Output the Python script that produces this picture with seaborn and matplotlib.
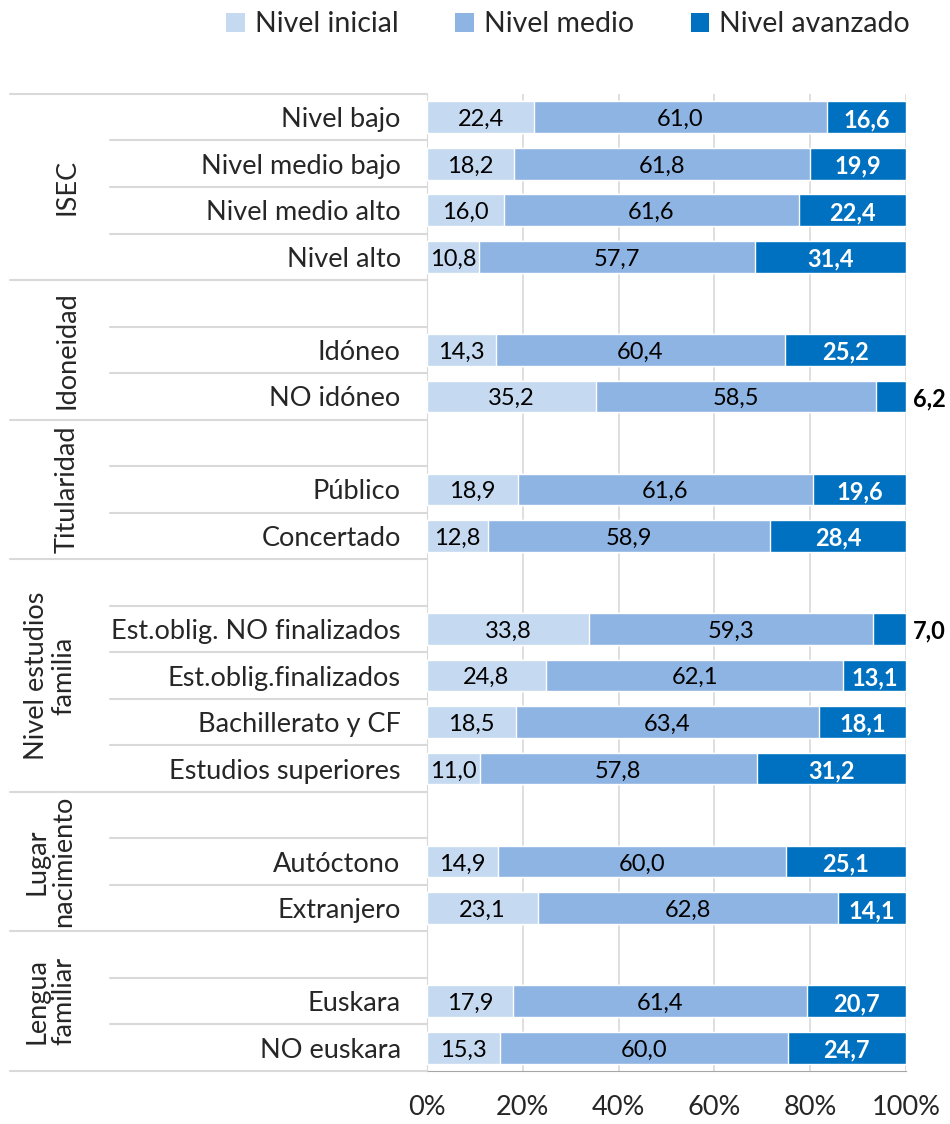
import numpy as np
import pandas as pd
import matplotlib
matplotlib.use("Agg")
import matplotlib.pyplot as plt
import matplotlib.transforms as mtransforms
from matplotlib.patches import Patch
from matplotlib.lines import Line2D
import seaborn as sns

# rows from top to bottom; "" = blank spacer row
row_labels = ["Nivel bajo", "Nivel medio bajo", "Nivel medio alto", "Nivel alto", "",
              "Idóneo", "NO idóneo", "",
              "Público", "Concertado", "",
              "Est.oblig. NO finalizados", "Est.oblig.finalizados", "Bachillerato y CF", "Estudios superiores", "",
              "Autóctono", "Extranjero", "",
              "Euskara", "NO euskara"]
inicial = [22.4, 18.2, 16.0, 10.8, np.nan, 14.3, 35.2, np.nan, 18.9, 12.8, np.nan,
           33.8, 24.8, 18.5, 11.0, np.nan, 14.9, 23.1, np.nan, 17.9, 15.3]
medio = [61.0, 61.8, 61.6, 57.7, np.nan, 60.4, 58.5, np.nan, 61.6, 58.9, np.nan,
         59.3, 62.1, 63.4, 57.8, np.nan, 60.0, 62.8, np.nan, 61.4, 60.0]
avanzado = [16.6, 19.9, 22.4, 31.4, np.nan, 25.2, 6.2, np.nan, 19.6, 28.4, np.nan,
            7.0, 13.1, 18.1, 31.2, np.nan, 25.1, 14.1, np.nan, 20.7, 24.7]

# group labels and the rows (first, last incl. spacer) they cover
groups = ["ISEC", "Idoneidad", "Titularidad", "Nivel estudios\nfamilia", "Lugar\nnacimiento", "Lengua\nfamiliar"]
group_rows = [(0, 3), (4, 6), (7, 9), (10, 14), (15, 17), (18, 20)]

series = ["Nivel inicial", "Nivel medio", "Nivel avanzado"]
colors = ["#C5D9F1", "#8EB4E3", "#0070C0"]
grid_col = "#D9D9D9"
font = ["Lato", "DejaVu Sans"]
fs = 19.5
fs_val = 17

sns.set_style("white")
plt.rcParams["font.family"] = font

keys = [f"r{i}" for i in range(len(row_labels))]
df = pd.DataFrame({"row": keys, "inicial": inicial, "medio": medio, "avanzado": avanzado})
df["c1"] = df["inicial"]
df["c2"] = df["inicial"] + df["medio"]
df["c3"] = df["c2"] + df["avanzado"]

fig = plt.figure(figsize=(9.5, 11.24), dpi=100)
ax = fig.add_axes([0.4495, 0.0472, 0.5042, 0.8692])

for col, c in zip(["c3", "c2", "c1"], colors[::-1]):
    sns.barplot(data=df, x=col, y="row", order=keys, color=c, saturation=1,
                width=0.68, errorbar=None, orient="h", ax=ax, zorder=3)

ax.set_xlim(0, 100)
ax.set_ylim(len(keys) - 0.5, -0.5)
ax.set_xticks(np.arange(0, 101, 20))
ax.set_xticklabels([f"{v}%" for v in range(0, 101, 20)], fontsize=fs)
ax.set_yticks(range(len(keys)))
ax.set_yticklabels(row_labels, fontsize=fs)
ax.tick_params(axis="y", length=0, pad=19)
ax.tick_params(axis="x", length=8, color="#A6A6A6", width=1, direction="out", pad=9)
ax.set_xlabel("")
ax.set_ylabel("")
ax.xaxis.grid(True, color=grid_col, lw=1.2, zorder=0)
ax.set_axisbelow(True)
for s in ["top", "right"]:
    ax.spines[s].set_visible(False)
ax.spines["left"].set_color(grid_col)
ax.spines["bottom"].set_color("#A6A6A6")

# value labels
dy = 0.05
for i, r in df.iterrows():
    if np.isnan(r["inicial"]):
        continue
    ax.text(r["inicial"] / 2, i + dy, f"{r['inicial']:.1f}".replace(".", ","), ha="center", va="center",
            fontsize=fs_val, color="black", zorder=5)
    ax.text(r["c1"] + r["medio"] / 2, i + dy, f"{r['medio']:.1f}".replace(".", ","), ha="center",
            va="center", fontsize=fs_val, color="black", zorder=5)
    lab = f"{r['avanzado']:.1f}".replace(".", ",")
    if r["avanzado"] < 10:
        ax.text(101.4, i + dy, lab, ha="left", va="center", fontsize=fs_val, fontweight="bold",
                color="black", zorder=5, clip_on=False)
    else:
        ax.text(r["c2"] + r["avanzado"] / 2, i + dy, lab, ha="center", va="center", fontsize=fs_val,
                fontweight="bold", color="white", zorder=5)

# separator lines in the label area
trans = mtransforms.blended_transform_factory(fig.transFigure, ax.transData)
x_axis = 0.4495
for g, (a, b) in zip(groups, group_rows):
    fig.add_artist(Line2D([0.0105, x_axis], [a - 0.5, a - 0.5], transform=trans, color=grid_col, lw=1.5))
    for k in range(a, b):
        fig.add_artist(Line2D([0.116, x_axis], [k + 0.5, k + 0.5], transform=trans, color=grid_col, lw=1.5))
    gx = 0.053 if "\n" in g else 0.071
    ax.text(gx, (a + b) / 2, g, transform=trans, rotation=90, ha="center", va="center",
            fontsize=fs, linespacing=1.1)
fig.add_artist(Line2D([0.0105, x_axis], [len(keys) - 0.5] * 2, transform=trans, color=grid_col, lw=1.5))

handles = [Patch(facecolor=c, edgecolor="none") for c in colors]
fig.legend(handles, series, loc="upper center", bbox_to_anchor=(0.598, 1.013), ncol=3, frameon=False,
           fontsize=20.5, handlelength=0.65, handleheight=0.65, handletextpad=0.35, columnspacing=2.0)

fig.savefig("out.png", dpi=100)
